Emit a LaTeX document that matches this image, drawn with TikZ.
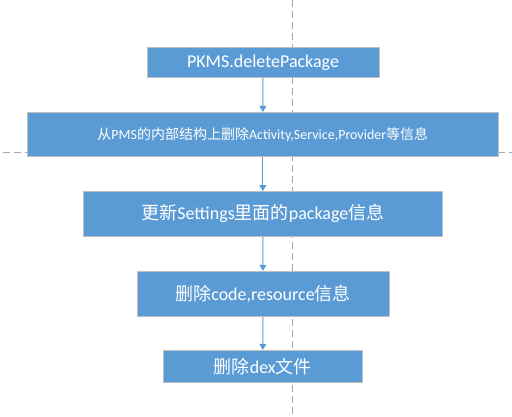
\documentclass[tikz,border=0pt]{standalone}
\usepackage{fontspec}
\setmainfont{Carlito}
\newfontfamily\cjk{Noto Sans CJK SC}
\usetikzlibrary{arrows.meta}
\definecolor{boxblue}{HTML}{5B9BD5}
\definecolor{boxedge}{HTML}{BFBFBF}
\definecolor{guide}{HTML}{A6A6A6}
\newcommand{\zh}[1]{{\cjk #1}}
\tikzset{
    stepbox/.style={draw=boxedge,line width=1pt,fill=boxblue,text=white,
        inner sep=0pt,font=\fontsize{18}{20}\selectfont},
    flow/.style={draw=boxblue,line width=1pt,-{Triangle[length=6pt,width=7pt]}},
    guideline/.style={draw=guide,line width=1pt,dash pattern=on 7pt off 4pt}
}
\begin{document}
\begin{tikzpicture}[x=1pt,y=-1pt]
                \useasboundingbox (0,0) rectangle (512,417);
                \coordinate (gt) at (292.5,0);
                \coordinate (gb) at (292.5,417);
                \coordinate (gl) at (3,152.5);
                \coordinate (gr) at (512,152.5);
                \draw[guideline] (gt) -- (gb);
                \draw[guideline] (gl) -- (gr);

                \node[stepbox,minimum width=232pt,minimum height=29.5pt] (delete) at (263,62.5)
                    {PKMS.deletePackage};
                \node[stepbox,minimum width=471pt,minimum height=44.5pt,font=\fontsize{14}{16}\selectfont] (pms) at (262.8,134.7)
                    {\zh{从}PMS\zh{的内部结构上删除}Activity,Service,Provider\zh{等信息}};
                \node[stepbox,minimum width=359pt,minimum height=44.5pt] (settings) at (262.8,213.8)
                    {\zh{更新}Settings\zh{里面的}package\zh{信息}};
                \node[stepbox,minimum width=252pt,minimum height=45pt] (code) at (263,293.8)
                    {\zh{删除}code,resource\zh{信息}};
                \node[stepbox,minimum width=199pt,minimum height=32pt] (dex) at (262.8,366.3)
                    {\zh{删除}dex\zh{文件}};

                \draw[flow] (delete) -- (pms);
                \draw[flow] (pms) -- (settings);
                \draw[flow] (settings) -- (code);
                \draw[flow] (code) -- (dex);
            \end{tikzpicture}
\end{document}
